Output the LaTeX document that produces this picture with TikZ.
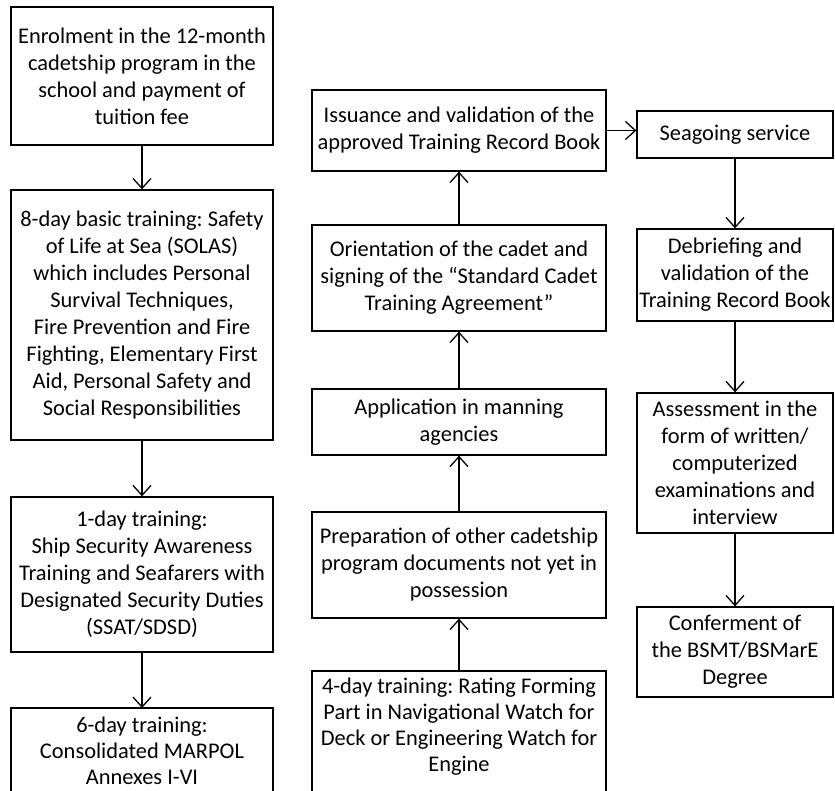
\documentclass[tikz,border=0pt]{standalone}
\usepackage{fontspec}
\setmainfont{Carlito}
\usetikzlibrary{arrows.meta}
\frenchspacing
\begin{document}
\begin{tikzpicture}[x=1pt,y=-1pt,
  box/.style={draw, line width=1.3pt, align=center, inner sep=1.5pt, font=\fontsize{22.4}{27}\selectfont\frenchspacing},
  txt/.style={align=center, inner sep=0pt, font=\fontsize{22.4}{26}\selectfont\frenchspacing},
  boxline/.style={draw, line width=1.3pt},
  arr/.style={line width=1.3pt, -{Straight Barb[length=10pt,width=18pt]}}]
\useasboundingbox (0,0) rectangle (835,791);
\clip (0,0) rectangle (835,791);
% column 1
\node[box, minimum width=262pt, minimum height=138pt] (b1) at (142,76) {Enrolment in the 12-month\\cadetship program in the\\school and payment of\\tuition fee};
\node[box, minimum width=262pt, minimum height=250pt] (b2) at (142,315) {8-day basic training: Safety\\of Life at Sea (SOLAS)\\which includes Personal\\Survival Techniques,\\Fire Prevention and Fire\\Fighting, Elementary First\\Aid, Personal Safety and\\Social Responsibilities};
\node[box, minimum width=262pt, minimum height=155pt] (b3) at (142,574.5) {1-day training:\\Ship Security Awareness\\Training and Seafarers with\\Designated Security Duties\\(SSAT/SDSD)};
\node[txt] (b4) at (142,751) {6-day training:\\Consolidated MARPOL\\Annexes I-VI};
\draw[boxline] (11,708) rectangle (273,805);
\coordinate (b4top) at (142,708);
% column 2
\node[box, minimum width=294pt, minimum height=81pt] (A) at (459,130.5) {Issuance and validation of the\\approved Training Record Book};
\node[box, minimum width=294pt, minimum height=106pt] (B) at (459,278) {Orientation of the cadet and\\signing of the “Standard Cadet\\Training Agreement”};
\node[box, minimum width=294pt, minimum height=66pt] (C) at (459,422) {Application in manning\\agencies};
\node[box, minimum width=294pt, minimum height=106pt] (D) at (459,565) {Preparation of other cadetship\\program documents not yet in\\possession};
\node[txt] (E) at (459,727) {4-day training: Rating Forming\\Part in Navigational Watch for\\Deck or Engineering Watch for\\Engine};
\draw[boxline] (312,671) rectangle (606,805);
\coordinate (Etop) at (459,671);
% column 3
\node[box, minimum width=196pt, minimum height=47pt] (S) at (735,134.5) {Seagoing service};
\node[box, minimum width=196pt, minimum height=92pt] (Deb) at (735,275) {Debriefing and\\validation of the\\Training Record Book};
\node[box, minimum width=196pt, minimum height=140pt] (Ass) at (735,463) {Assessment in the\\form of written/\\computerized\\examinations and\\interview};
\node[box, minimum width=196pt, minimum height=90pt] (Conf) at (735,652) {Conferment of\\the BSMT/BSMarE\\Degree};
% connectors
\draw[arr] (b1) -- (b2);
\draw[arr] (b2) -- (b3);
\draw[arr] (b3) -- (b4top);
\draw[arr] (Etop) -- (D);
\draw[arr] (D) -- (C);
\draw[arr] (C) -- (B);
\draw[arr] (B) -- (A);
\draw[arr] (A.east) -- (A.east -| S.west);
\draw[arr] (S) -- (Deb);
\draw[arr] (Deb) -- (Ass);
\draw[arr] (Ass) -- (Conf);
\end{tikzpicture}
\end{document}
